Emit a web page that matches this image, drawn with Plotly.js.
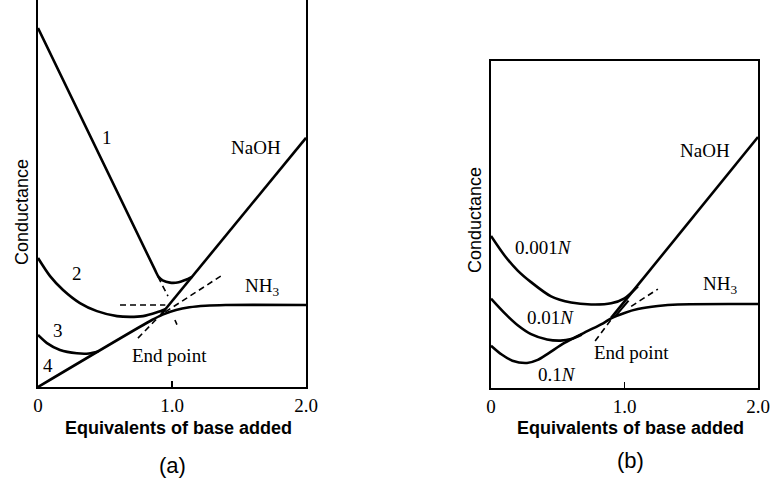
<!DOCTYPE html>
<html>
<head>
<meta charset="utf-8">
<script src="https://cdn.plot.ly/plotly-3.0.1.min.js"></script>
<style>html,body{margin:0;padding:0;background:#fff;}#chart{width:776px;height:479px;}</style>
</head>
<body>
<div id="chart"></div>
<script>
// ---------- tick labels ----------
const xTickVals = [0, 1, 2];
const xTickText = ['0', '1.0', '2.0'];

// ---------- panel (a) ----------
const aCurve1X = [0, 0.873, 0.9, 0.93, 0.985, 1.05, 1.1, 1.15];
const aCurve1Y = [9.32, 3.04, 2.86, 2.77, 2.71, 2.72, 2.78, 2.86];
const aCurve2X = [0, 0.09, 0.187, 0.313, 0.44, 0.59, 0.687, 0.784, 0.888, 0.95];
const aCurve2Y = [3.35, 2.88, 2.52, 2.18, 1.97, 1.84, 1.82, 1.84, 1.94, 2.02];
const aCurve3X = [0, 0.067, 0.164, 0.29, 0.38, 0.45];
const aCurve3Y = [1.35, 1.14, 0.96, 0.875, 0.87, 0.92];
const aCurve4X = [0, 0.85, 0.93, 1.03, 1.13, 1.25, 1.4, 2.0];
const aCurve4Y = [0, 1.74, 1.88, 2.0, 2.07, 2.11, 2.13, 2.13];
const aNaOHX = [0.92, 2.0];
const aNaOHY = [1.89, 6.47];
const aDashFlatX = [0.612, 0.95];
const aDashFlatY = [2.13, 2.13];
const aDashLineX = [0.95, 1.373];
const aDashLineY = [1.95, 2.9];
const aDashNaOHX = [0.746, 0.92];
const aDashNaOHY = [1.27, 1.89];
const aDashC1X = [0.896, 0.97];
const aDashC1Y = [2.86, 2.36];
const aDashEndX = [1.022, 1.037];
const aDashEndY = [1.74, 1.62];

// ---------- panel (b) ----------
const b001X = [0, 0.1, 0.2, 0.3, 0.45, 0.6, 0.75, 0.9, 1.0, 1.1];
const b001Y = [3.95, 3.45, 3.05, 2.75, 2.38, 2.22, 2.17, 2.2, 2.33, 2.64];
const b01X = [0, 0.1, 0.2, 0.3, 0.42, 0.52, 0.6, 0.68];
const b01Y = [2.32, 1.95, 1.63, 1.4, 1.26, 1.23, 1.27, 1.39];
const b1X = [0, 0.08, 0.16, 0.27, 0.35, 0.43, 0.55, 0.7, 0.84, 0.9, 1.0, 1.1, 1.25, 1.4, 2.0];
const b1Y = [1.1, 0.87, 0.71, 0.65, 0.73, 0.9, 1.17, 1.44, 1.68, 1.81, 1.95, 2.05, 2.13, 2.17, 2.18];
const bNaOHX = [0.9, 2.0];
const bNaOHY = [1.82, 6.52];
const bJunctionX = [0.93, 1.03];
const bJunctionY = [1.86, 2.27];
const bDashNaOHX = [0.78, 0.9];
const bDashNaOHY = [1.22, 1.78];
const bDashLineX = [1.05, 1.25];
const bDashLineY = [2.12, 2.57];

const solid = {color: '#000', width: 2.6, shape: 'spline', smoothing: 0.8};
const straight = {color: '#000', width: 2.6};
const dashed = {color: '#000', width: 1.6, dash: '6px,4px'};

function tr(x, y, line, ax) {
  return {x: x, y: y, type: 'scatter', mode: 'lines', line: line,
          xaxis: ax === 2 ? 'x2' : 'x', yaxis: ax === 2 ? 'y2' : 'y',
          hoverinfo: 'skip', showlegend: false};
}

const data = [
  tr(aCurve1X, aCurve1Y, solid, 1),
  tr(aCurve2X, aCurve2Y, solid, 1),
  tr(aCurve3X, aCurve3Y, solid, 1),
  tr(aCurve4X, aCurve4Y, solid, 1),
  tr(aNaOHX, aNaOHY, straight, 1),
  tr(aDashFlatX, aDashFlatY, dashed, 1),
  tr(aDashLineX, aDashLineY, dashed, 1),
  tr(aDashNaOHX, aDashNaOHY, dashed, 1),
  tr(aDashC1X, aDashC1Y, dashed, 1),
  tr(aDashEndX, aDashEndY, dashed, 1),
  tr(b001X, b001Y, solid, 2),
  tr(b01X, b01Y, solid, 2),
  tr(b1X, b1Y, solid, 2),
  tr(bNaOHX, bNaOHY, straight, 2),
  tr(bJunctionX, bJunctionY, {color: '#000', width: 2.2}, 2),
  tr(bDashNaOHX, bDashNaOHY, dashed, 2),
  tr(bDashLineX, bDashLineY, dashed, 2)
];

const serif = {family: 'Liberation Serif, Times New Roman, serif', size: 19, color: '#000'};
const sans = {family: 'Liberation Sans, Arial, sans-serif', size: 18, color: '#000'};

function ann(text, x, y, ax, font, extra) {
  return Object.assign({text: text, x: x, y: y, xref: ax === 2 ? 'x2' : 'x', yref: ax === 2 ? 'y2' : 'y',
    showarrow: false, xanchor: 'center', yanchor: 'middle', font: font}, extra || {});
}
function pann(text, x, y, font, extra) {
  return Object.assign({text: text, x: x, y: y, xref: 'paper', yref: 'paper',
    showarrow: false, xanchor: 'center', yanchor: 'middle', font: font}, extra || {});
}

const titleFont = {family: 'Liberation Sans, Arial, sans-serif', size: 18, color: '#000', weight: 'bold'};
const panelFont = {family: 'Liberation Sans, Arial, sans-serif', size: 22, color: '#000'};

const annotations = [
  ann('1', 0.515, 6.49, 1, serif),
  ann('NaOH', 1.627, 6.21, 1, serif),
  ann('2', 0.291, 2.96, 1, serif),
  ann('NH<sub>3</sub>', 1.672, 2.6, 1, serif),
  ann('3', 0.149, 1.48, 1, serif),
  ann('4', 0.075, 0.57, 1, serif),
  ann('End point', 0.985, 0.83, 1, serif),
  pann('Conductance', 22 / 776, 1 - 212 / 479, sans, {textangle: -90}),
  pann('Equivalents of base added', 178 / 776, 1 - 428 / 479, titleFont),
  pann('(a)', 172 / 776, 1 - 465 / 479, panelFont),
  ann('NaOH', 1.603, 6.18, 2, serif),
  ann('0.001<i>N</i>', 0.39, 3.66, 2, serif),
  ann('NH<sub>3</sub>', 1.715, 2.68, 2, serif),
  ann('0.01<i>N</i>', 0.442, 1.82, 2, serif),
  ann('End point', 1.056, 0.91, 2, serif),
  ann('0.1<i>N</i>', 0.494, 0.34, 2, serif),
  pann('Conductance', 475 / 776, 1 - 220 / 479, sans, {textangle: -90}),
  pann('Equivalents of base added', 630 / 776, 1 - 428 / 479, titleFont),
  pann('(b)', 630 / 776, 1 - 460 / 479, panelFont)
];

const xBase = {range: [0, 2], showgrid: false, zeroline: false, showline: true, linecolor: '#000', linewidth: 2,
  ticks: 'inside', ticklen: 6, tickwidth: 1.5, tickcolor: '#000', tickvals: xTickVals, ticktext: xTickText,
  tickfont: serif, fixedrange: true};
const yBase = {showgrid: false, zeroline: false, showline: true, linecolor: '#000', linewidth: 2,
  mirror: true, ticks: '', showticklabels: false, fixedrange: true};

const layout = {
  width: 776, height: 479,
  margin: {l: 0, r: 0, t: 0, b: 0},
  paper_bgcolor: '#fff', plot_bgcolor: '#fff',
  showlegend: false,
  xaxis: Object.assign({}, xBase, {domain: [38 / 776, 306 / 776], anchor: 'y'}),
  yaxis: Object.assign({}, yBase, {domain: [92 / 479, 1], range: [0, 10.05], anchor: 'x'}),
  xaxis2: Object.assign({}, xBase, {domain: [491 / 776, 758 / 776], anchor: 'y2', mirror: true}),
  yaxis2: Object.assign({}, yBase, {domain: [91 / 479, 418 / 479], range: [0, 327 / 38.5], anchor: 'x2'}),
  annotations: annotations
};

Plotly.newPlot('chart', data, layout, {staticPlot: true, displayModeBar: false});
</script>
</body>
</html>
